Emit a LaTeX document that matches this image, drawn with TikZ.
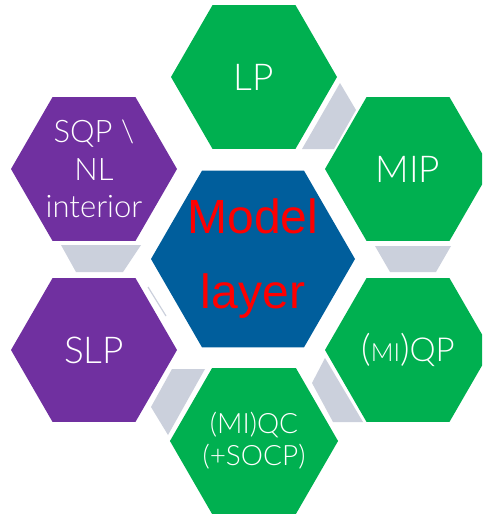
\documentclass[tikz,border=0pt]{standalone}
\usepackage{fontspec}
\setmainfont{Liberation Sans}
\IfFontExistsTF{Lato Light}{\newfontfamily\thinfont{Lato Light}}{%
  \IfFontExistsTF{Open Sans Light}{\newfontfamily\thinfont{Open Sans Light}}{%
    \newfontfamily\thinfont{Fira Sans}}}
\usetikzlibrary{shapes.geometric}
\definecolor{hexgreen}{RGB}{0,176,80}
\definecolor{hexpurple}{RGB}{112,48,160}
\definecolor{hexblue}{RGB}{0,94,156}
\definecolor{linkgray}{RGB}{203,208,220}

\begin{document}
\begin{tikzpicture}[x=1pt,y=-1pt,
  hex/.style={regular polygon,regular polygon sides=6,inner sep=0pt,
    minimum size=166pt,text=white,align=center,
    font=\thinfont\fontsize{37}{40}\selectfont},
  green hex/.style={hex,fill=hexgreen},
  purple hex/.style={hex,fill=hexpurple},
  link/.style={fill=linkgray}]
\useasboundingbox (0,0) rectangle (482,514);
\clip (0,0) rectangle (482,514);
\node [regular polygon,regular polygon sides=6,inner sep=-12pt,minimum size=204pt,
  fill=hexblue,text=red,align=center,font=\fontsize{48}{75}\selectfont]
  (model) at (253,259) {Model\\layer};
\node [green hex] (lp) at (254,77) {LP};
\node [green hex] (mip) at (408,169) {MIP};
\node [green hex] (qp) at (408,350) {({\fontsize{25}{25}\selectfont MI})\fontsize{33}{38}\selectfont QP};
\node [green hex,font=\thinfont\fontsize{28}{32}\selectfont] (qc) at (254,441) {(MI)QC\\(+SOCP)};
\node [purple hex] (slp) at (94,350) {SLP};
\node [purple hex,font=\thinfont\fontsize{31}{37.5}\selectfont] (sqp) at (94,169) {SQP \textbackslash\\NL\\interior};
\fill [link] (340,83) -- (356,110) -- (334,149) -- (302,149) -- cycle;
\fill [link] (375,246) -- (451,246) -- (436,272) -- (390,272) -- cycle;
\fill [link] (325,358) -- (312,383) -- (333,422) -- (363,422) -- cycle;
\fill [link] (172,369) -- (205,369) -- (168,435) -- (151,407) -- cycle;
\fill [link] (61,245) -- (141,245) -- (123,272) -- (76,272) -- cycle;
\draw [linkgray,line width=1.2pt] (148,287) -- (166,316);
\end{tikzpicture}
\end{document}
